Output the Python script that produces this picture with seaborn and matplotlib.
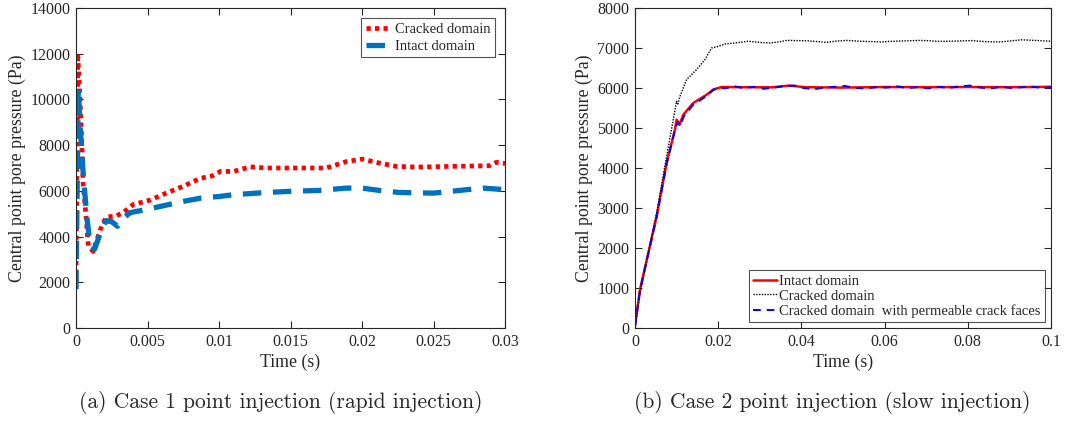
import numpy as np
import pandas as pd
import matplotlib
matplotlib.use("Agg")
import matplotlib.pyplot as plt
import seaborn as sns

# ---- Case 1 (rapid injection) ----
c1_cracked_t = [0, 0.00005, 0.00012, 0.0002, 0.00028, 0.0004, 0.0005, 0.0007, 0.00086,
                0.0012, 0.0017, 0.0021, 0.0028, 0.0033, 0.004, 0.0052, 0.0063, 0.0075,
                0.0087, 0.0095, 0.0101, 0.011, 0.0122, 0.0133, 0.0157, 0.0175, 0.0189,
                0.0200, 0.0212, 0.0224, 0.0238, 0.0261, 0.0289, 0.0294, 0.03]
c1_cracked_p = [2000, 6000, 12000, 11000, 10000, 8200, 6300, 4900, 3600,
                3350, 4300, 4850, 4900, 5050, 5400, 5600, 5900, 6200,
                6550, 6650, 6850, 6850, 7050, 7000, 7000, 7000, 7280,
                7390, 7220, 7070, 7040, 7070, 7100, 7250, 7200]

c1_intact_t = [0, 0.00008, 0.00016, 0.00028, 0.0005, 0.00075, 0.00098, 0.0013, 0.0017,
               0.0021, 0.0025, 0.0029, 0.0034, 0.0038, 0.0049, 0.0059, 0.0075, 0.0087,
               0.0101, 0.011, 0.0133, 0.015, 0.017, 0.0189, 0.02, 0.0212, 0.0226,
               0.025, 0.0273, 0.0285, 0.03]
c1_intact_p = [1700, 6000, 10500, 8900, 6800, 4900, 3700, 3450, 4150,
               4700, 4650, 4450, 4850, 5050, 5180, 5320, 5540, 5680,
               5760, 5830, 5930, 5980, 6020, 6120, 6120, 6020, 5930,
               5900, 6050, 6120, 6050]

# ---- Case 2 (slow injection) ----
c2_intact_t = [0, 0.0012, 0.0052, 0.0076, 0.0096, 0.0100, 0.0107, 0.0116, 0.014,
               0.0172, 0.0188, 0.0208, 0.025, 0.033, 0.037, 0.041, 0.05, 0.06,
               0.07, 0.08, 0.09, 0.1]
c2_intact_p = [50, 960, 2790, 4125, 4960, 5210, 5080, 5330, 5625,
               5830, 5960, 6025, 6020, 6017, 6060, 6020, 6010, 6025,
               6020, 6025, 6020, 6030]

c2_cracked_t = [0, 0.0012, 0.0052, 0.0076, 0.0092, 0.0100, 0.0103, 0.0108, 0.0124, 0.0148,
                0.0168, 0.0184, 0.0200, 0.0216, 0.0235, 0.0252, 0.0272, 0.0300, 0.0325,
                0.0345, 0.0365, 0.0390, 0.0413, 0.0440, 0.0460, 0.0485, 0.0510, 0.0540,
                0.0570, 0.0590, 0.0610, 0.0640, 0.0685, 0.0710, 0.0730, 0.0760, 0.0810,
                0.0840, 0.0877, 0.0900, 0.0930, 0.0960, 0.1]
c2_cracked_p = [0, 875, 2875, 4290, 5210, 5670, 5600, 5790, 6210, 6460,
                6710, 7000, 7040, 7100, 7120, 7140, 7170, 7140, 7125,
                7150, 7190, 7185, 7180, 7160, 7140, 7175, 7190, 7170,
                7160, 7150, 7165, 7175, 7190, 7180, 7165, 7170, 7185,
                7160, 7150, 7175, 7205, 7190, 7170]

c2_perm_t = [0, 0.0012, 0.0052, 0.0076, 0.0096, 0.0101, 0.0104, 0.0108, 0.0112,
             0.0118, 0.014, 0.0172, 0.0188, 0.0200, 0.0215, 0.0240, 0.0260, 0.0285,
             0.0310, 0.0335, 0.0360, 0.0385, 0.0405, 0.0430, 0.0455, 0.0480, 0.0505,
             0.0530, 0.0555, 0.0580, 0.0605, 0.0630, 0.0655, 0.0680, 0.0705, 0.0730,
             0.0755, 0.0780, 0.0805, 0.0830, 0.0855, 0.0880, 0.0905, 0.0930, 0.0955,
             0.0980, 0.1]
c2_perm_p = [50, 940, 2780, 4100, 4950, 5100, 5150, 5050, 5150,
             5300, 5580, 5800, 5950, 6020, 5990, 6040, 6000, 6030,
             5980, 6010, 6050, 6060, 6000, 5970, 6010, 6030, 6050,
             6000, 5990, 6020, 6010, 6040, 6000, 6020, 5990, 6030,
             6000, 6040, 6060, 6010, 5990, 6030, 6000, 6020, 6030,
             6000, 6020]

c1_xticks = [0, 0.005, 0.01, 0.015, 0.02, 0.025, 0.03]
c1_xlabels = ["0", "0.005", "0.01", "0.015", "0.02", "0.025", "0.03"]
c1_yticks = [0, 2000, 4000, 6000, 8000, 10000, 12000, 14000]
c2_xticks = [0, 0.02, 0.04, 0.06, 0.08, 0.1]
c2_xlabels = ["0", "0.02", "0.04", "0.06", "0.08", "0.1"]
c2_yticks = [0, 1000, 2000, 3000, 4000, 5000, 6000, 7000, 8000]

sns.set_style("ticks")
plt.rcParams["font.family"] = ["Liberation Serif", "DejaVu Serif"]
plt.rcParams["axes.edgecolor"] = "#262626"
plt.rcParams["xtick.color"] = "#262626"
plt.rcParams["ytick.color"] = "#262626"

fig = plt.figure(figsize=(10.86, 4.21), dpi=100)
H = 421
W = 1086
ax1 = fig.add_axes([76 / W, 1 - 328 / H, (505 - 76) / W, 320 / H])
ax2 = fig.add_axes([635 / W, 1 - 328 / H, (1051 - 635) / W, 320 / H])

sns.lineplot(x=c1_cracked_t, y=c1_cracked_p, ax=ax1, color="red", lw=3.4,
             linestyle=(0, (0.9, 0.9)), label="Cracked domain", sort=False, estimator=None)
sns.lineplot(x=c1_intact_t, y=c1_intact_p, ax=ax1, color="#0072BD", lw=3.8,
             linestyle=(0, (3.5, 2.2)), label="Intact domain", sort=False, estimator=None)

sns.lineplot(x=c2_intact_t, y=c2_intact_p, ax=ax2, color="red", lw=1.8,
             label="Intact domain", sort=False, estimator=None)
sns.lineplot(x=c2_cracked_t, y=c2_cracked_p, ax=ax2, color="black", lw=1.0,
             linestyle=(0, (1, 1)), label="Cracked domain", sort=False, estimator=None)
sns.lineplot(x=c2_perm_t, y=c2_perm_p, ax=ax2, color="blue", lw=1.4,
             linestyle=(0, (4, 3)), label="Cracked domain  with permeable crack faces",
             sort=False, estimator=None)

for ax, xt, xl, yt, xmax, ymax in [(ax1, c1_xticks, c1_xlabels, c1_yticks, 0.03, 14000),
                                   (ax2, c2_xticks, c2_xlabels, c2_yticks, 0.1, 8000)]:
    ax.set_xlim(0, xmax)
    ax.set_ylim(0, ymax)
    ax.set_xticks(xt)
    ax.set_xticklabels(xl)
    ax.set_yticks(yt)
    ax.tick_params(direction="in", top=True, right=True, length=5, width=0.8,
                   labelsize=11.5, pad=4)
    for s in ax.spines.values():
        s.set_visible(True)
        s.set_linewidth(0.8)
    ax.set_xlabel("Time (s)", fontsize=12.8, labelpad=3)
    ax.set_ylabel("Central point pore pressure (Pa)", fontsize=12.8, labelpad=3)

leg1 = ax1.legend(loc="upper right", fontsize=10.5, frameon=True, fancybox=False,
                  edgecolor="#262626", handlelength=1.5, handletextpad=0.5,
                  borderpad=0.3, labelspacing=0.25, borderaxespad=0.7)
leg1.get_frame().set_linewidth(0.8)
leg2 = ax2.legend(loc="lower right", fontsize=10.5, frameon=True, fancybox=False,
                  edgecolor="#262626", handlelength=1.6, handletextpad=0.2,
                  borderpad=0.3, borderaxespad=0.4, labelspacing=0.1)
leg2.get_frame().set_linewidth(0.8)

fig.text(281 / W, 1 - 403 / H, "(a) Case 1 point injection (rapid injection)",
         ha="center", va="center", fontsize=15.5, family="cmr10")
fig.text(832 / W, 1 - 403 / H, "(b) Case 2 point injection (slow injection)",
         ha="center", va="center", fontsize=15.5, family="cmr10")

fig.savefig("out.png", dpi=100)
